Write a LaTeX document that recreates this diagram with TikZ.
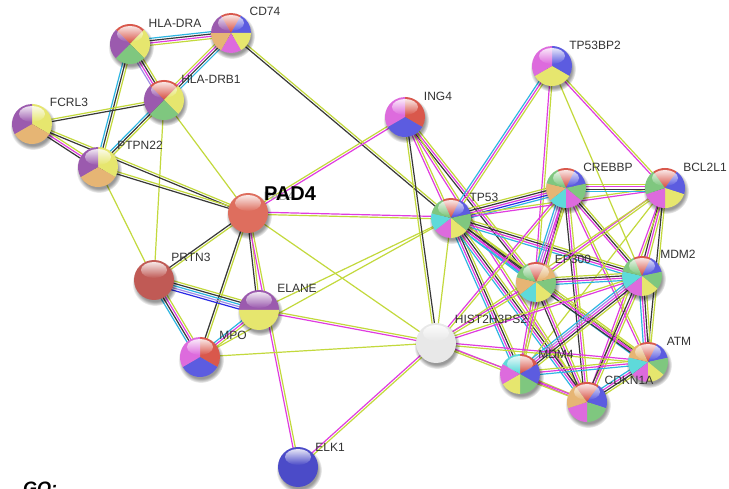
\documentclass[tikz,border=0pt]{standalone}
\usepackage{fontspec}
\setmainfont{Liberation Sans}
\usetikzlibrary{calc,fadings}

% evidence channels of the interaction lines
\definecolor{tm}{HTML}{C3D93C}   % text mining
\definecolor{ex}{HTML}{E03CE0}   % experiments
\definecolor{co}{HTML}{383838}   % co-expression
\definecolor{db}{HTML}{2EB6E2}   % databases
\definecolor{nb}{HTML}{2A2AE6}   % co-occurrence
\definecolor{hm}{HTML}{A08CE6}   % homology

% sector colours of the protein balls
\definecolor{sr}{HTML}{D9584C}
\definecolor{sb}{HTML}{5C5CE0}
\definecolor{sg}{HTML}{7FC77F}
\definecolor{sy}{HTML}{E6E66E}
\definecolor{sm}{HTML}{DD6BDD}
\definecolor{sc}{HTML}{5EDADA}
\definecolor{so}{HTML}{E6B574}
\definecolor{sp}{HTML}{9B5AAE}
\definecolor{ss}{HTML}{DE6E5E}
\definecolor{sd}{HTML}{C05A55}
\definecolor{sk}{HTML}{4B4BC8}
\definecolor{sw}{HTML}{E8E8E8}
\definecolor{lbltext}{HTML}{333333}

% darker rim of each ball
\pgfdeclareradialshading{rimshading}{\pgfpointorigin}{color(0bp)=(black); color(26bp)=(black); color(42bp)=(black!80); color(50bp)=(black!30)}
\pgfdeclarefading{rimfade}{\pgfuseshading{rimshading}}

\tikzset{
  nd/.style={circle,inner sep=0pt,minimum size=40pt},
  edge/.style={line width=1.2pt},
  lbl/.style={font=\fontsize{12}{14}\selectfont,text=lbltext,inner sep=0pt},
}

% a multi-channel link: one parallel line per evidence colour
\newcommand\lnk[3]{%
  \def\nn{0}\foreach \cc in {#3}{\xdef\nn{\the\numexpr\nn+1\relax}}%
  \foreach \cc [count=\i] in {#3}{%
    \pgfmathsetmacro\off{(\i-(\nn+1)/2)*2.3}%
    \draw[edge,color=\cc] ($(#1)!\off pt!90:(#2)$) -- ($(#2)!\off pt!-90:(#1)$);
  }}

% a glossy ball split into equal sectors, clockwise from the start angle
\newcommand\ball[3]{%
  \def\nn{0}\foreach \cc in {#3}{\xdef\nn{\the\numexpr\nn+1\relax}}%
  \fill[black,opacity=.4,path fading=circle with fuzzy edge 20 percent] ($(#1)+(1,-3)$) circle (23);
  \foreach \cc [count=\i] in {#3}{%
    \pgfmathsetmacro\angA{#2-(\i-1)*360/\nn}%
    \pgfmathsetmacro\angB{#2-\i*360/\nn}%
    \fill[color=\cc] (#1.center) -- ($(#1)+(\angA:20)$) arc[start angle=\angA,end angle=\angB,radius=20] -- cycle;
  }%
  \fill[black,path fading=rimfade] (#1.center) circle (20);
  \fill[white,opacity=.85,path fading=south] ($(#1)+(0,10)$) ellipse (13 and 8);
}

\begin{document}
\begin{tikzpicture}[x=1pt,y=1pt]
\useasboundingbox (0,0) rectangle (729,-489);
\fill[white] (0,0) rectangle (729,-489);

% protein positions
\node[nd] (HLADRA)  at (130,-44)  {};
\node[nd] (CD74)    at (231,-33)  {};
\node[nd] (HLADRB1) at (164,-100) {};
\node[nd] (FCRL3)   at (32,-124)  {};
\node[nd] (PTPN22)  at (98,-167)  {};
\node[nd] (PAD4)    at (248,-213) {};
\node[nd] (PRTN3)   at (154,-280) {};
\node[nd] (ELANE)   at (259,-310) {};
\node[nd] (MPO)     at (200,-357) {};
\node[nd] (ELK1)    at (298,-467) {};
\node[nd] (ING4)    at (405,-117) {};
\node[nd] (TP53BP2) at (552,-66)  {};
\node[nd] (TP53)    at (451,-218) {};
\node[nd] (CREBBP)  at (566,-188) {};
\node[nd] (BCL2L1)  at (665,-188) {};
\node[nd] (EP300)   at (536,-282) {};
\node[nd] (MDM2)    at (642,-276) {};
\node[nd] (HIST)    at (436,-343) {};
\node[nd] (MDM4)    at (520,-374) {};
\node[nd] (ATM)     at (648,-362) {};
\node[nd] (CDKN1A)  at (587,-402) {};

% immune / neutrophil cluster
\lnk{HLADRA}{CD74}{tm,ex,co,db}
\lnk{HLADRA}{HLADRB1}{hm,ex,co,tm}
\lnk{HLADRA}{PTPN22}{db,co,tm}
\lnk{CD74}{HLADRB1}{tm,ex,co,db}
\lnk{CD74}{TP53}{co,tm}
\lnk{HLADRB1}{FCRL3}{tm,co}
\lnk{HLADRB1}{PTPN22}{db,co,tm}
\lnk{HLADRB1}{PAD4}{tm}
\lnk{HLADRB1}{PRTN3}{tm}
\lnk{FCRL3}{PTPN22}{co,ex,tm}
\lnk{FCRL3}{PAD4}{co,tm}
\lnk{PTPN22}{PAD4}{co,tm}
\lnk{PTPN22}{PRTN3}{tm}
\lnk{PAD4}{PRTN3}{co,tm}
\lnk{PAD4}{ELANE}{co,tm}
\lnk{PAD4}{MPO}{co,tm}
\lnk{PAD4}{ELK1}{ex,tm}
\lnk{PRTN3}{ELANE}{nb,hm,db,co,tm}
\lnk{PRTN3}{MPO}{db,co,ex,tm}
\lnk{ELANE}{MPO}{db,ex,tm}
\lnk{PAD4}{TP53}{tm,ex}
\lnk{PAD4}{ING4}{ex,tm}
\lnk{PAD4}{HIST}{tm}
\lnk{ELANE}{TP53}{tm}
\lnk{MPO}{TP53}{tm}
\lnk{ELANE}{HIST}{ex,tm}
\lnk{MPO}{HIST}{tm}
\lnk{ELK1}{HIST}{tm,ex}

% p53 cluster
\lnk{ING4}{TP53}{ex,tm}
\lnk{ING4}{HIST}{tm,co}
\lnk{ING4}{EP300}{co,ex,tm}
\lnk{ING4}{CDKN1A}{ex,tm}
\lnk{TP53BP2}{TP53}{db,ex,tm}
\lnk{TP53BP2}{EP300}{ex,tm}
\lnk{TP53BP2}{MDM2}{tm}
\lnk{TP53BP2}{BCL2L1}{ex,tm}
\lnk{TP53}{CREBBP}{db,nb,ex,co,tm}
\lnk{TP53}{BCL2L1}{ex,tm}
\lnk{TP53}{EP300}{db,ex,co,tm}
\lnk{TP53}{MDM2}{db,ex,co,tm}
\lnk{TP53}{MDM4}{db,ex,co,tm}
\lnk{TP53}{ATM}{db,ex,co,tm}
\lnk{TP53}{CDKN1A}{db,ex,co,tm}
\lnk{TP53}{HIST}{tm}
\lnk{CREBBP}{BCL2L1}{db,co,ex,tm}
\lnk{CREBBP}{EP300}{db,hm,ex,co,tm}
\lnk{CREBBP}{MDM2}{ex,co,tm}
\lnk{CREBBP}{MDM4}{ex,tm}
\lnk{CREBBP}{ATM}{ex,tm}
\lnk{CREBBP}{CDKN1A}{co,ex,tm}
\lnk{CREBBP}{HIST}{ex,tm}
\lnk{BCL2L1}{MDM2}{co,ex,tm}
\lnk{BCL2L1}{ATM}{co,tm}
\lnk{BCL2L1}{EP300}{ex,tm}
\lnk{BCL2L1}{MDM4}{tm}
\lnk{BCL2L1}{CDKN1A}{ex,tm}
\lnk{BCL2L1}{HIST}{tm}
\lnk{EP300}{MDM2}{db,ex,co,tm}
\lnk{EP300}{MDM4}{ex,tm}
\lnk{EP300}{ATM}{co,ex,tm}
\lnk{EP300}{CDKN1A}{co,ex,tm}
\lnk{EP300}{HIST}{ex,tm}
\lnk{MDM2}{MDM4}{db,hm,ex,co,tm}
\lnk{MDM2}{ATM}{db,ex,co,tm}
\lnk{MDM2}{CDKN1A}{co,ex,tm}
\lnk{MDM2}{HIST}{tm,ex}
\lnk{MDM4}{ATM}{db,ex,tm}
\lnk{MDM4}{CDKN1A}{ex,tm}
\lnk{MDM4}{HIST}{tm}
\lnk{ATM}{CDKN1A}{db,ex,co,tm}
\lnk{ATM}{HIST}{ex,tm}
\lnk{CDKN1A}{HIST}{ex,tm}

% protein balls
\ball{HLADRA}{135}{sr,sy,sg,sp}
\ball{CD74}{120}{sr,sb,sy,sm,so,sp}
\ball{HLADRB1}{135}{sr,sy,sg,sp}
\ball{FCRL3}{90}{sy,so,sp}
\ball{PTPN22}{90}{sy,so,sp}
\ball{PAD4}{90}{ss}
\ball{PRTN3}{90}{sd}
\ball{ELANE}{180}{sp,sy}
\ball{MPO}{90}{sr,sb,sm}
\ball{ELK1}{90}{sk}
\ball{ING4}{90}{sr,sb,sm}
\ball{TP53BP2}{90}{sb,sy,sm}
\ball{TP53}{115}{sr,sb,sg,sy,sm,sc,sg}
\ball{CREBBP}{115}{sr,sb,sg,sm,sc,so,sg}
\ball{BCL2L1}{126}{sr,sb,sy,sm,sg}
\ball{EP300}{115}{sr,so,sg,sy,sc,so,sg}
\ball{MDM2}{115}{sr,sb,sg,sy,sm,sc,sg}
\ball{HIST}{90}{sw}
\ball{MDM4}{90}{sr,sb,sg,sy,sm,sc}
\ball{ATM}{115}{sr,sb,sg,sy,sm,sc,so}
\ball{CDKN1A}{126}{sr,sb,sg,sm,so}

% protein names
\node[lbl] (tHLADRA)  at (175,-23)  {HLA-DRA};
\node[lbl] (tCD74)    at (265,-11)  {CD74};
\node[lbl] (tHLADRB1) at (211,-79)  {HLA-DRB1};
\node[lbl] (tFCRL3)   at (69,-102)  {FCRL3};
\node[lbl] (tPTPN22)  at (140,-145) {PTPN22};
\node[lbl,text=black!35] (tPAD4s) at (279,-196) {PAD4};
\node[font=\bfseries\fontsize{20}{24}\selectfont,inner sep=0pt] (tPAD4) at (290,-194) {PAD4};
\node[lbl] (tPRTN3)   at (191,-257) {PRTN3};
\node[lbl] (tELANE)   at (297,-288) {ELANE};
\node[lbl] (tMPO)     at (233,-335) {MPO};
\node[lbl] (tELK1)    at (330,-447) {ELK1};
\node[lbl] (tING4)    at (438,-96)  {ING4};
\node[lbl] (tTP53BP2) at (595,-45)  {TP53BP2};
\node[lbl] (tTP53)    at (484,-197) {TP53};
\node[lbl] (tCREBBP)  at (608,-167) {CREBBP};
\node[lbl] (tBCL2L1)  at (705,-167) {BCL2L1};
\node[lbl] (tMDM2)    at (678,-254) {MDM2};
\node[lbl] (tEP300)   at (573,-259) {EP300};
\node[lbl] (tHIST)    at (491,-319) {HIST2H3PS2};
\node[lbl] (tATM)     at (679,-341) {ATM};
\node[lbl] (tMDM4)    at (556,-354) {MDM4};
\node[lbl] (tCDKN1A)  at (629,-380) {CDKN1A};

% heading cut by the lower edge
\node[font=\bfseries\itshape\fontsize{18}{20}\selectfont,anchor=base west,inner sep=0pt] (go) at (23,-494) {GO:};
\end{tikzpicture}
\end{document}
